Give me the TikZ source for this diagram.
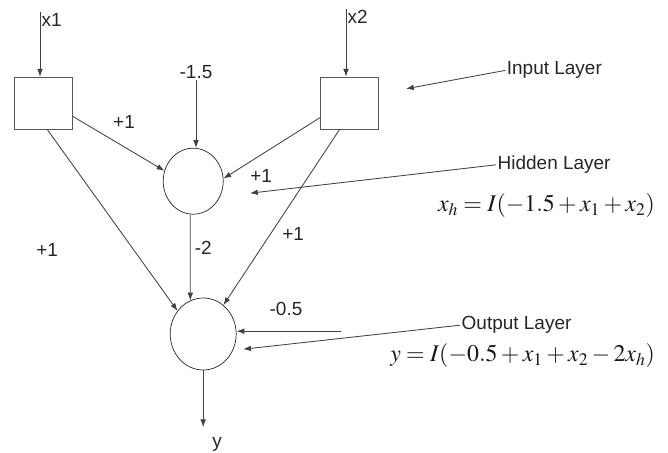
\documentclass[tikz,border=0pt]{standalone}
\usepackage{mathptmx}
\usepackage[no-math]{fontspec}
\setmainfont{Liberation Sans}
\usepackage{tikz}
\usetikzlibrary{arrows.meta,shapes.geometric}

\begin{document}
\begin{tikzpicture}[
    unit/.style={draw=black!65, line width=0.7pt, minimum width=1.45cm, minimum height=1.3cm, inner sep=0pt},
    neuron/.style={draw=black!85, ellipse, line width=0.5pt, inner sep=0pt},
    arr/.style={-{Latex[length=5.5pt,width=4pt]}, line width=0.6pt, draw=black!75},
    lbl/.style={font=\fontsize{13.5}{16}\selectfont, text=black!85, inner sep=1pt},
    eq/.style={font=\fontsize{17}{20}\selectfont, text=black!90, inner sep=0pt}
]
\useasboundingbox (0,0) rectangle (16.7,-11.325);
% units
\node[unit] (in1) at (1.08,-2.58) {};
\node[unit] (in2) at (8.74,-2.58) {};
\node[neuron, minimum width=1.5cm, minimum height=1.65cm] (hid) at (4.83,-4.53) {};
\node[neuron, minimum width=1.65cm, minimum height=1.8cm] (out) at (5.08,-8.35) {};

% inputs and biases
\node[lbl, anchor=west] (x1) at (1.0,-0.5) {x1};
\node[lbl, anchor=west] (x2) at (8.65,-0.43) {x2};
\draw[arr] (x1.north west) -- (x1.north west |- in1.north);
\draw[arr] (x2.north west) -- (x2.north west |- in2.north);
\node[lbl] (b1) at (4.9,-1.8) {-1.5};
\draw[arr] (b1.south) -- (b1.south |- hid.north);
\node[lbl] (b2lbl) at (7.15,-7.73) {-0.5};
\coordinate (b2) at (8.53,-8.28);
\draw[arr] (b2) -- (b2 -| out.east);

% weights
\draw[arr] (in1.-24) -- (hid.160);
\draw[arr] (in2.206) -- (hid.5);
\draw[arr] (in1.-81) -- (out.138);
\draw[arr] (in2.249) -- (out.55);
\draw[arr] (hid.265) -- (out.111);
\node[lbl] (w1) at (3.1,-3.05) {+1};
\node[lbl] (w2) at (6.53,-4.4) {+1};
\node[lbl] (w3) at (1.18,-6.25) {+1};
\node[lbl] (w4) at (7.33,-5.85) {+1};
\node[lbl] (w5) at (5.08,-6.19) {-2};

% output
\coordinate (yend) at (5.08,-10.68);
\draw[arr] (out) -- (yend);
\node[lbl, anchor=base] (y) at (5.43,-11.18) {y};

% layer names
\node[lbl, anchor=west] (inl) at (12.63,-1.76) {Input Layer};
\node[lbl, anchor=west] (hidl) at (12.4,-4.12) {Hidden Layer};
\node[lbl, anchor=west] (outl) at (11.5,-8.13) {Output Layer};
\coordinate (inp) at (10.15,-2.22);
\coordinate (hidp) at (6.25,-4.83);
\coordinate (outp) at (6.08,-8.73);
\draw[arr] (inl.west) -- (inp);
\draw[arr] (hidl.west) -- (hidp);
\draw[arr] (outl.west) -- (outp);

% formulas
\node[eq, anchor=base east] (fh) at (16.38,-5.3) {$x_h = I(-1.5 + x_1 + x_2)$};
\node[eq, anchor=base east] (fy) at (16.38,-9.05) {$y = I(-0.5 + x_1 + x_2 - 2x_h)$};
\end{tikzpicture}
\end{document}
